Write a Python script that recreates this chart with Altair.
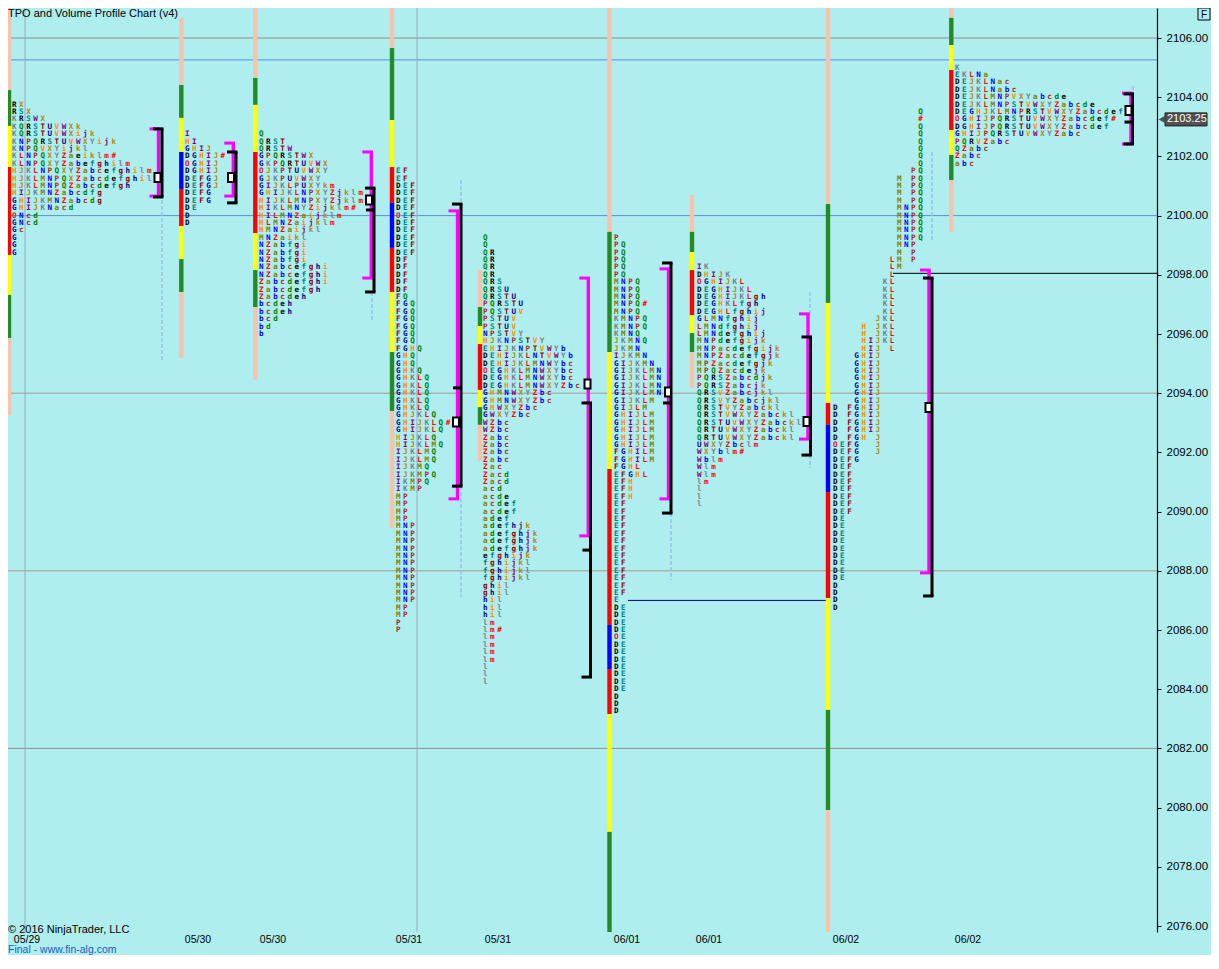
import altair as alt
import pandas as pd

# ---------------- data ----------------
session_labels = ["05/29", "05/30", "05/30", "05/31", "05/31", "06/01", "06/01", "06/02", "06/02"]
session_label_x = [27, 198, 273, 409, 498, 627, 709, 846, 968]
letter_x0 = [12, 185, 259, 396, 483, 614, 697, 833, 955]
top_price = [2103.75, 2102.75, 2102.75, 2101.5, 2099.25, 2099.25, 2098.25, 2103.5, 2105.0]

P1 = ["RX", "RSX", "KRSWX", "KQRSTUVWXk", "KQRSTUVWXijk", "KNPQRSTUVWXYijk", "KNPQVXYijkl",
      "KLNPQXYZaeiklm#", "KLNPQXYZabefghilm", "HJKLNPQXYZabcefghilm", "HJKLMNPQXZabcdefghil",
      "HJKLMNPQZabcdefgh", "HIJKMNZabcdfg", "GHIJKMNZabcdg", "GHIJKNacd", "ONcd", "GNcd", "Gc", "G", "G", "G"]
P2 = ["I", "HI", "GHIJ", "DGHIJ#", "OGHIJ", "DGHIJ", "DEFGJ", "DEFGJ", "DEFG", "DEFG", "DE", "D", "D"]
P3 = ["Q", "QRST", "QRSTW", "GPQRSTWX", "GKPQRTUVWX", "OJKPTUVWXY", "GJKPUVWXY", "GIJKLPUXYkm",
      "GHIJKLNPXYZjklm", "HIJKLMNPXYZjklm", "HIKLMNYZijklm#", "HILMNZaijklm", "HLMNZaijklm",
      "HMNZaijkl", "MNZaikl", "NZabfgi", "NZabfgi", "NZabfgi", "NZabcefghi", "NZabcefghi",
      "Zabcdefghi", "Zabcdefgh", "Zabcdeh", "bcdeh", "bcdeh", "bcd", "bd", "b"]
P4 = (["EF"] * 2 + ["DEF"] * 4 + ["OEF"] + ["DEF"] * 5 + ["DF"] * 5 + ["FQ"] + ["FGQ"] * 6 + ["FGHQ"]
      + ["GHQ"] * 2 + ["GHKQ"] + ["GHKLQ"] * 5
      + ["GHJKLQ", "GHIJKLQ#", "GHIJKLQ", "HIJKLQ", "HIJKLMQ"] + ["IJKLMQ"] * 2
      + ["IJKMQ", "IJKMPQ", "IKMPQ", "IKMP"] + ["MP"] * 4 + ["MNP"] * 11 + ["MP"] * 2 + ["P"] * 2)
P5 = (["Q"] * 2 + ["QR"] * 4 + ["QRS", "QRSU", "QRSTU", "PQRSTU", "PQSTUV"] + ["PSTUV"] * 2
      + ["NPSTVY", "HJKNPSTVY", "EHIJKNPTVWYb", "DEHIJKLNTVWYb", "DEHIJKLMNWYbc", "OEGHKLMNWXYbc",
         "DEGHKLMNWXYbc", "DEGHKLMNWXYZbc"] + ["GHMNWXYZbc"] * 2 + ["GHWXYZbc", "GWXYZbc"]
      + ["WZbc"] * 2 + ["Zabc"] * 4 + ["Zac"] + ["Zacd"] * 2 + ["acd", "acde"] + ["acdef"] * 2
      + ["adef", "adefhjk"] + ["adefghjk"] * 3 + ["efghijk"] + ["fghijkl"] * 3 + ["ghil"] * 2
      + ["hil"] * 3 + ["lm", "lm#"] + ["lm"] * 4 + ["l"] * 3)
P6 = (["P"] + ["PQ"] * 5 + ["MNPQ"] * 3 + ["MNPQ#", "MNPQ"] + ["KMNPQ"] * 2
      + ["KMNQ", "JKMNQ", "JKMN", "IJKMN", "GIJKMN"] + ["GIJKLMN"] * 4 + ["GIJKLM", "GIJLM"]
      + ["GHIJLM"] * 5 + ["FGHILM"] * 2 + ["FGHL", "EFGHL"] + ["EFH"] * 3 + ["EF"] * 13 + ["E"]
      + ["DE"] * 4 + ["OE"] + ["DE"] * 7 + ["D"] * 3)
P7 = ["IK", "DHIJK", "OGHIJKL", "DEGHIJKL", "DEGHIJKLgh", "DEGHKLfgh", "DEGHLfghij", "GLMNfghij",
      "LMNdfghij", "LMNdefghij", "MNPdefgijk", "MNPacdefgijk", "MNPZacdefgjk", "MPZacdefgjk",
      "MPQZacdejk", "PQRSZabcdjk", "PQRSZabcjk", "QRSVZabcjkl", "QRSVYZabcjkl", "QRSTVYZabckl",
      "QRSTVWXYZabckl", "QRSTUVWXYZabckl", "QRTUVWXYZabckl", "QRTUVWXYZabckl", "UWXYZbclm",
      "WXYblm#", "Wblm", "Wlm", "Wlm", "lm", "l", "l", "l"]
# session 8 keeps letters in fixed period columns D E F G H I J K L M N P Q
P8 = (["            Q", "            #"] + ["            Q"] * 6 + ["           PQ"]
      + ["         M PQ"] * 4 + ["         MNPQ"] * 5
      + ["         MNP", "         M P", "        LM P", "        LM", "        L"]
      + ["       KL"] * 5 + ["      JKL"] + ["    H JKL"] * 2 + ["    HIJKL", "    HIJ L"]
      + ["   GHIJ"] * 7 + ["D FGHIJ"] * 4 + ["D FGH J", "OEFG  J", "DEFG  J", "DEFG"]
      + ["DEF"] * 7 + ["DE"] * 9 + ["D"] * 4)
P9 = ["K", "EKLNa", "DEJKLNac", "DEJKLNabc", "DEJKLMNPVXYabcde", "DEJKLMNPSTVWXYZabcde",
      "DEGHJKLMNPRSTVWXYZabcdef", "OGHIJPQRSTUVWXYZabcdef#", "DGHIJPQRSTUVWXYZabcdef",
      "GHIJPQRSTUVWXYZabc", "PQRVZabc", "QZabc", "Zabc", "abc"]
tpo_rows = [P1, P2, P3, P4, P5, P6, P7, P8, P9]

# session range bars (price edges, top to bottom) and their band kinds
bar_x = [9, 181.3, 255.3, 392, 480, 609.5, 692, 828, 951.3]
bar_edges = [
    [2107.11, 2104.24, 2103.03, 2101.64, 2098.67, 2097.32, 2095.86, 2093.26],
    [2106.68, 2104.41, 2103.30, 2102.15, 2100.90, 2099.65, 2098.53, 2097.42, 2095.19],
    [2107.11, 2104.65, 2103.74, 2102.15, 2099.41, 2098.16, 2096.91, 2094.45],
    [2107.01, 2105.66, 2103.23, 2101.64, 2100.43, 2098.91, 2097.42, 2095.39, 2093.40, 2089.45],
    [2098.16, 2096.91, 2096.27, 2095.66, 2094.11, 2093.53, 2092.93, 2091.71],
    [2107.11, 2099.45, 2095.39, 2091.44, 2086.17, 2084.68, 2083.16, 2079.18, 2075.43],
    [2100.70, 2099.45, 2098.77, 2098.16, 2096.64, 2096.03, 2095.39, 2094.18],
    [2107.11, 2100.39, 2097.05, 2093.67, 2092.93, 2090.66, 2087.08, 2083.30, 2079.92, 2075.43],
    [2107.11, 2106.68, 2105.76, 2104.92, 2102.89, 2102.05, 2101.20, 2099.45],
]
bar_kinds = [
    "SGYRYGS", "SGYBRYGS", "SGYRYGS", "SGYRBRYGS", "SGYRYGS",
    "SGYRBRYG", "SGYRYGS", "SGYRBRYGS", "SGYRYGS",
]

# value-area brackets (magenta), volume brackets (black), POC markers
va_x = [158.5, 233.3, 371.3, 457.5, 588.3, 668.5, 808, 929, 1131]
va_hi = [2102.93, 2102.45, 2102.15, 2100.16, 2097.89, 2098.20, 2096.68, 2098.16, 2104.14]
va_lo = [2100.66, 2100.66, 2097.89, 2090.43, 2089.18, 2090.43, 2092.45, 2087.93, 2102.42]
vol_x = [162, 236, 374, 461, 590.5, 671, 810.5, 932, 1132.5]
vol_hi = [2102.93, 2102.15, 2100.93, 2100.39, 2093.67, 2098.40, 2095.90, 2097.89, 2104.11]
vol_lo = [2100.63, 2100.43, 2097.42, 2090.86, 2084.41, 2089.95, 2091.91, 2087.15, 2102.42]
vol_mid_x = [374, 461, 590.5, 671, 1132.5]
vol_mid_p = [2100.19, 2094.18, 2088.70, 2093.67, 2103.16]
poc_x = [157.5, 231, 369, 456, 587.5, 668, 806.5, 928.5, 1128.5]
poc_p = [2101.29, 2101.29, 2100.53, 2093.03, 2094.31, 2094.04, 2093.04, 2093.52, 2103.55]
# faint dashed volume-extension lines
dash_x = [162, 372, 461, 461, 671, 810, 810, 932, 1133]
dash_hi = [2100.53, 2097.42, 2101.20, 2090.86, 2089.95, 2097.42, 2091.91, 2102.15, 2104.38]
dash_lo = [2095.12, 2096.41, 2100.39, 2087.11, 2087.69, 2096.68, 2091.47, 2099.18, 2104.04]

# horizontal reference lines
hline_p = [2106.0, 2105.26, 2100.0, 2094.0, 2088.0, 2082.0, 2087.0, 2098.05]
hline_x1 = [8, 8, 8, 8, 8, 8, 628, 893]
hline_x2 = [1157, 1157, 1157, 1157, 1157, 1157, 830, 1157]
hline_kind = ["grey", "blue", "blue", "rose", "rose", "grey", "navy", "black"]
vline_x = [25, 417]

last_price = 2103.25
price_ticks = list(range(2076, 2107, 2))

# ---------------- styles ----------------
LETTER_COLORS = {
    "D": "#000000", "E": "#008080", "F": "#8B0000", "G": "#0000A8", "H": "#FF8C00", "I": "#800080",
    "J": "#B8860B", "K": "#708090", "L": "#FF0000", "M": "#808000", "N": "#0000FF", "O": "#E8102E",
    "P": "#A52A2A", "Q": "#008000", "R": "#000000", "S": "#008B8B", "T": "#8B0000", "U": "#00008B",
    "V": "#FF8C00", "W": "#800080", "X": "#B8860B", "Y": "#708090", "Z": "#FF0000", "a": "#808000",
    "b": "#0000FF", "c": "#A52A2A", "d": "#008000", "e": "#000000", "f": "#008080", "g": "#8B0000",
    "h": "#00008B", "i": "#FF8C00", "j": "#800080", "k": "#B8860B", "l": "#708090", "m": "#FF0000",
    "#": "#FF0000",
}
BAND_COLORS = {"S": "#F8C3AA", "G": "#228B22", "Y": "#FFFF00", "R": "#FF0000", "B": "#0000FF"}
LINE_COLORS = {"grey": "#8E8E8E", "blue": "#5B8FD8", "rose": "#A89494", "navy": "#000080", "black": "#000000"}
BG = "#AFEEEE"
COL_W = 7.1
ROW = 0.25
PX_PER_PT = 29.6
PLOT_W = 1149
PLOT_H = 924
RIGHT_PAD = 54
BOTTOM_PAD = 23
Y_MAX = 2106 + 30 / PX_PER_PT
Y_MIN = Y_MAX - PLOT_H / PX_PER_PT

# ---------------- tables ----------------
letters = []
for k, rows in enumerate(tpo_rows):
    for r, s in enumerate(rows):
        for i, ch in enumerate(s):
            if ch != " ":
                letters.append({"x": letter_x0[k] + i * COL_W, "p": top_price[k] - ROW * r,
                                "ch": ch, "c": LETTER_COLORS[ch]})
letters_df = pd.DataFrame(letters)

bars = []
for k in range(len(bar_x)):
    e = bar_edges[k]
    for j, kind in enumerate(bar_kinds[k]):
        bars.append({"x": bar_x[k] - 2.2, "x2": bar_x[k] + 2.2, "p": e[j], "p2": e[j + 1],
                     "c": BAND_COLORS[kind]})
bars_df = pd.DataFrame(bars)

segs = []
for i in range(len(hline_p)):
    segs.append({"x": hline_x1[i], "x2": hline_x2[i], "p": hline_p[i], "p2": hline_p[i],
                 "c": LINE_COLORS[hline_kind[i]], "w": 1})
for vx in vline_x:
    segs.append({"x": vx, "x2": vx, "p": Y_MAX, "p2": Y_MIN, "c": "#9AAAC0", "w": 1})
hlines_df = pd.DataFrame(segs)

dash_df = pd.DataFrame({"x": dash_x, "p": dash_hi, "p2": dash_lo})

br = []
for k in range(len(va_x)):
    x = va_x[k]
    br.append({"x": x, "x2": x, "p": va_hi[k], "p2": va_lo[k], "c": "#FF00FF", "w": 3.4})
    br.append({"x": x - 9, "x2": x + 1.7, "p": va_hi[k], "p2": va_hi[k], "c": "#FF00FF", "w": 3})
    br.append({"x": x - 9, "x2": x + 1.7, "p": va_lo[k], "p2": va_lo[k], "c": "#FF00FF", "w": 3})
for k in range(len(vol_x)):
    x = vol_x[k]
    br.append({"x": x, "x2": x, "p": vol_hi[k], "p2": vol_lo[k], "c": "#000000", "w": 3})
    br.append({"x": x - 9, "x2": x + 1.5, "p": vol_hi[k], "p2": vol_hi[k], "c": "#000000", "w": 3})
    br.append({"x": x - 9, "x2": x + 1.5, "p": vol_lo[k], "p2": vol_lo[k], "c": "#000000", "w": 3})
for x, p in zip(vol_mid_x, vol_mid_p):
    br.append({"x": x - 8, "x2": x, "p": p, "p2": p, "c": "#000000", "w": 3})
brackets_df = pd.DataFrame(br)

poc_df = pd.DataFrame({"x": poc_x, "p": poc_p})
dates_df = pd.DataFrame({"x": session_label_x, "t": session_labels})
last_df = pd.DataFrame({"p": [last_price], "lo": [last_price - 0.22], "hi": [last_price + 0.22],
                        "t": [f"{last_price:.2f}"]})

# ---------------- chart ----------------
xs = alt.Scale(domain=[8, 8 + PLOT_W], nice=False, zero=False)
ys = alt.Scale(domain=[Y_MIN, Y_MAX], nice=False, zero=False, clamp=True)
yaxis = alt.Axis(orient="right", values=price_ticks, format=".2f", title=None, grid=False,
                 domain=True, domainColor="#000000", domainWidth=1.2, ticks=True, tickColor="#000000",
                 tickSize=4, labelFont="Liberation Sans", labelFontSize=11.5, labelColor="#000000",
                 labelPadding=5, labelFlush=False, labelOverlap=False)


def X(f="x"):
    return alt.X(f"{f}:Q", scale=xs, axis=None)


def Y(f="p"):
    return alt.Y(f"{f}:Q", scale=ys, axis=yaxis)


base_lines = alt.Chart(hlines_df).mark_rule().encode(
    x=X(), x2="x2:Q", y=Y(), y2="p2:Q",
    color=alt.Color("c:N", scale=None), strokeWidth=alt.StrokeWidth("w:Q", scale=None))

dash_layer = alt.Chart(dash_df).mark_rule(color="#98C0EE", strokeWidth=1.5, strokeDash=[4, 2]).encode(
    x=X(), y=Y(), y2="p2:Q")

bars_layer = alt.Chart(bars_df).mark_rect().encode(
    x=X(), x2="x2:Q", y=Y(), y2="p2:Q", color=alt.Color("c:N", scale=None))

letters_layer = alt.Chart(letters_df).mark_text(
    align="left", baseline="middle", font="DejaVu Sans Mono", fontSize=7.6, fontWeight="bold"
).encode(x=X(), y=Y(), text="ch:N", color=alt.Color("c:N", scale=None))

brackets_layer = alt.Chart(brackets_df).mark_rule(strokeCap="butt").encode(
    x=X(), x2="x2:Q", y=Y(), y2="p2:Q",
    color=alt.Color("c:N", scale=None), strokeWidth=alt.StrokeWidth("w:Q", scale=None))

poc_layer = alt.Chart(poc_df).mark_rect(fill="#FFFFFF", stroke="#000000", strokeWidth=2,
                                         width=6, height=9).encode(x=X(), y=Y())

dates_layer = alt.Chart(dates_df).mark_text(
    font="Liberation Sans", fontSize=10.5, color="#000000", baseline="middle", align="center"
).encode(x=X(), y=alt.value(PLOT_H + 8), text="t:N")

last_box = alt.Chart(last_df).mark_rect(fill="#505050", stroke="#202020", strokeWidth=1).encode(
    x=alt.value(PLOT_W + 8), x2=alt.value(PLOT_W + 50), y=Y("hi"), y2="lo:Q")
last_arrow = alt.Chart(last_df).mark_point(shape="triangle-left", filled=True, color="#505050",
                                           size=60, opacity=1).encode(
    x=alt.value(PLOT_W + 5), y=Y())
last_text = alt.Chart(last_df).mark_text(font="Liberation Sans", fontSize=11, color="#FFFFFF",
                                         align="left", baseline="middle").encode(
    x=alt.value(PLOT_W + 10), y=Y(), text="t:N")


def note(text, yy, color, size=11):
    d = pd.DataFrame({"t": [text]})
    return alt.Chart(d).mark_text(font="Liberation Sans", fontSize=size, align="left",
                                  baseline="middle", color=color).encode(
        x=alt.value(0), y=alt.value(yy), text="t:N")


title_note = note("TPO and Volume Profile Chart (v4)", 6, "#000000")
copy_note = note("\u00a9 2016 NinjaTrader, LLC", PLOT_H - 2, "#000000")
final_note = note("Final - www.fin-alg.com", PLOT_H + 18, "#1E5AC8", 10.5)

fbox_df = pd.DataFrame({"t": ["F"]})
fbox = alt.Chart(fbox_df).mark_rect(fill=BG, stroke="#000000", strokeWidth=1).encode(
    x=alt.value(PLOT_W + 41), x2=alt.value(PLOT_W + 53), y=alt.value(0), y2=alt.value(12))
ftext = alt.Chart(fbox_df).mark_text(font="Liberation Sans", fontSize=10, color="#000000",
                                     align="center", baseline="middle").encode(
    x=alt.value(PLOT_W + 47), y=alt.value(6.5), text="t:N")

chart = alt.layer(
    base_lines, dash_layer, bars_layer, letters_layer, brackets_layer, poc_layer, dates_layer,
    last_box, last_arrow, last_text, title_note, copy_note, final_note, fbox, ftext
).properties(
    width=PLOT_W, height=PLOT_H,
    autosize=alt.AutoSizeParams(type="none"),
    padding={"left": 0, "top": 0, "right": RIGHT_PAD, "bottom": BOTTOM_PAD},
    background=BG,
).configure_view(stroke=None, fill=BG)

chart.save("out.html", embed_options={"renderer": "svg", "actions": False})
